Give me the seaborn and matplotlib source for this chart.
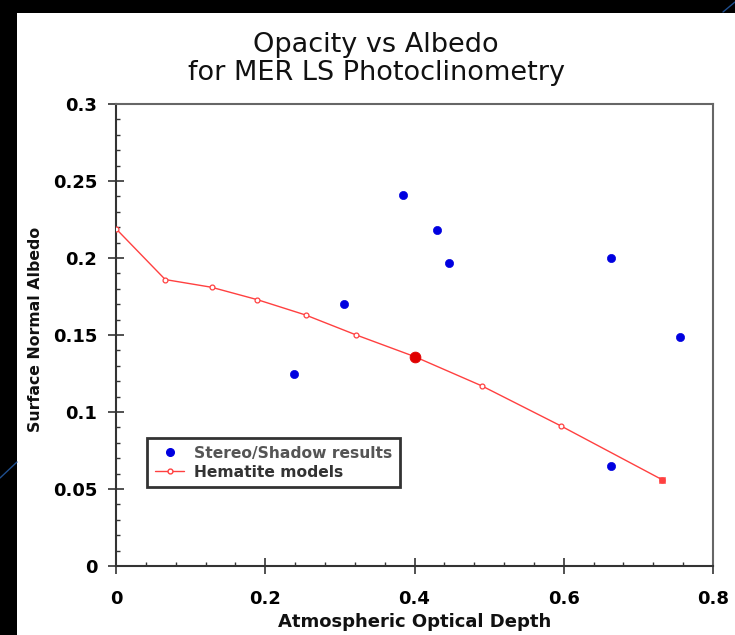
import matplotlib
matplotlib.use("Agg")
import matplotlib.pyplot as plt
import seaborn as sns
import pandas as pd
from matplotlib.lines import Line2D
from matplotlib.patches import Rectangle
from matplotlib.ticker import MultipleLocator, FuncFormatter

# 관측값 (Stereo/Shadow)
stereo_tau = [0.239, 0.306, 0.385, 0.430, 0.446, 0.663, 0.663, 0.756]
stereo_albedo = [0.125, 0.170, 0.241, 0.218, 0.197, 0.200, 0.065, 0.149]

# 모델 곡선 (Hematite)
model_tau = [0.0, 0.066, 0.128, 0.189, 0.254, 0.322, 0.400, 0.490, 0.596, 0.732]
model_albedo = [0.219, 0.186, 0.181, 0.173, 0.163, 0.150, 0.136, 0.117, 0.091, 0.056]

# 강조 포인트
highlight_tau = [0.400]
highlight_albedo = [0.136]

sns.set_style("white")
plt.rcParams['font.family'] = ['DejaVu Sans']

fig = plt.figure(figsize=(7.35, 6.35), dpi=100, facecolor='black')
# 슬라이드 흰 배경
fig.patches.append(Rectangle((17 / 735, 0), 1, 1 - 13 / 635, transform=fig.transFigure,
                             facecolor='white', edgecolor='none', zorder=-10))
# 장식용 파란 선
fig.add_artist(Line2D([0, 17 / 735], [1 - 478 / 635, 1 - 462 / 635],
                      transform=fig.transFigure, color='#1f4f8f', lw=1))
fig.add_artist(Line2D([1 - 12 / 735, 1], [1 - 12 / 635, 1 - 2 / 635],
                      transform=fig.transFigure, color='#1f4f8f', lw=1))

ax = fig.add_axes([116 / 735, 1 - 566 / 635, 597 / 735, 462 / 635])

stereo_df = pd.DataFrame({'tau': stereo_tau, 'albedo': stereo_albedo})
model_df = pd.DataFrame({'tau': model_tau, 'albedo': model_albedo})

sns.lineplot(data=model_df, x='tau', y='albedo', ax=ax, color='#ff4040', lw=1,
             marker='o', markersize=3.5, markerfacecolor='white',
             markeredgecolor='#ff4040', markeredgewidth=0.9, zorder=3)
sns.scatterplot(x=model_tau[-1:], y=model_albedo[-1:], ax=ax, marker='s', s=22,
                color='#ff4040', edgecolor='#ff4040', zorder=4)
sns.scatterplot(x=highlight_tau, y=highlight_albedo, ax=ax, s=60, color='#e00000',
                edgecolor='#e00000', zorder=5)
sns.scatterplot(data=stereo_df, x='tau', y='albedo', ax=ax, s=35, color='#0000e0',
                edgecolor='#0000e0', zorder=5)

ax.set_xlim(0, 0.8)
ax.set_ylim(0, 0.3)
ax.xaxis.set_major_locator(MultipleLocator(0.2))
ax.xaxis.set_minor_locator(MultipleLocator(0.04))
ax.yaxis.set_major_locator(MultipleLocator(0.05))
ax.yaxis.set_minor_locator(MultipleLocator(0.01))
fmt = FuncFormatter(lambda v, p: f"{round(v, 3):g}")
ax.xaxis.set_major_formatter(fmt)
ax.yaxis.set_major_formatter(fmt)
ax.tick_params(which='major', direction='inout', length=11, width=1.2,
               colors='#333333', labelsize=13, labelcolor='black')
ax.tick_params(axis='x', which='major', pad=11.5)
ax.tick_params(axis='y', which='major', pad=8)
ax.tick_params(which='minor', direction='in', length=3, width=1, colors='#333333')
ax.tick_params(bottom=True, left=True, top=False, right=False, which='both')
for lab in ax.get_xticklabels() + ax.get_yticklabels():
    lab.set_fontweight('bold')
for sp in ax.spines.values():
    sp.set_color('#666666')
    sp.set_linewidth(1.5)
ax.spines['left'].set_color('#333333')
ax.spines['bottom'].set_color('#333333')

ax.set_xlabel('Atmospheric Optical Depth', fontsize=13, fontweight='bold', labelpad=4,
              color='#111111')
ax.set_ylabel('Surface Normal Albedo', fontsize=11.3, fontweight='bold',
              color='#111111')
ax.yaxis.set_label_coords(-0.122, 0.511)

fig.text(376 / 735, 1 - 45 / 635, 'Opacity vs Albedo', ha='center', va='center',
         fontsize=19.5, color='#111111')
fig.text(376 / 735, 1 - 73 / 635, 'for MER LS Photoclinometry', ha='center', va='center',
         fontsize=19.5, color='#111111')

handles = [
    Line2D([], [], color='#0000e0', marker='o', ls='none', markersize=5.5),
    Line2D([], [], color='#ff4040', marker='o', lw=1, markersize=3.5,
           markerfacecolor='white', markeredgecolor='#ff4040'),
]
leg = ax.legend(handles, ['Stereo/Shadow results', 'Hematite models'],
                loc='upper left', bbox_to_anchor=(31 / 597, 1 - (438 - 104) / 462),
                frameon=True, fancybox=False, handlelength=1.9, handletextpad=0.6,
                borderpad=0.5, labelspacing=0.25, borderaxespad=0,
                prop={'weight': 'bold', 'size': 11.2})
leg.get_frame().set_edgecolor('black')
leg.get_frame().set_linewidth(2)
leg.get_texts()[0].set_color('#555555')
leg.get_texts()[1].set_color('#333333')

fig.savefig('out.png', dpi=100, facecolor='black')
